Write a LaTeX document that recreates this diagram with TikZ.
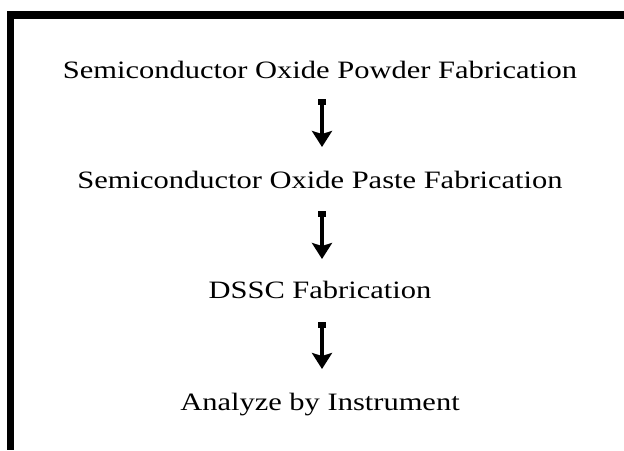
\documentclass[tikz,border=0pt]{standalone}
\usepackage{fontspec}
\setmainfont{Liberation Serif}[FakeStretch=1.22]
\usetikzlibrary{arrows.meta}
\tikzset{
  lbl/.style={anchor=base, inner sep=0pt, font=\fontsize{25}{30}\selectfont},
  flow/.style={line width=4pt, {Rectangle[length=6pt,width=8pt]}-{Stealth[length=16pt,width=20pt,inset=3pt]}}
}
\begin{document}
\begin{tikzpicture}[x=1pt,y=-1pt]
\useasboundingbox (0,0) rectangle (624,450);
\fill[black] (7,11) rectangle (624,19);
\fill[black] (7,11) rectangle (14,450);
\node[lbl] (t1) at (320,78) {Semiconductor Oxide Powder Fabrication};
\node[lbl] (t2) at (320,188) {Semiconductor Oxide Paste Fabrication};
\node[lbl] (t3) at (320,298) {DSSC Fabrication};
\node[lbl] (t4) at (320,410) {Analyze by Instrument};
\draw[flow] ([shift={(2,21)}]t1.base) -- ([shift={(2,-41)}]t2.base);
\draw[flow] ([shift={(2,23)}]t2.base) -- ([shift={(2,-39)}]t3.base);
\draw[flow] ([shift={(2,24)}]t3.base) -- ([shift={(2,-41)}]t4.base);
\end{tikzpicture}
\end{document}
